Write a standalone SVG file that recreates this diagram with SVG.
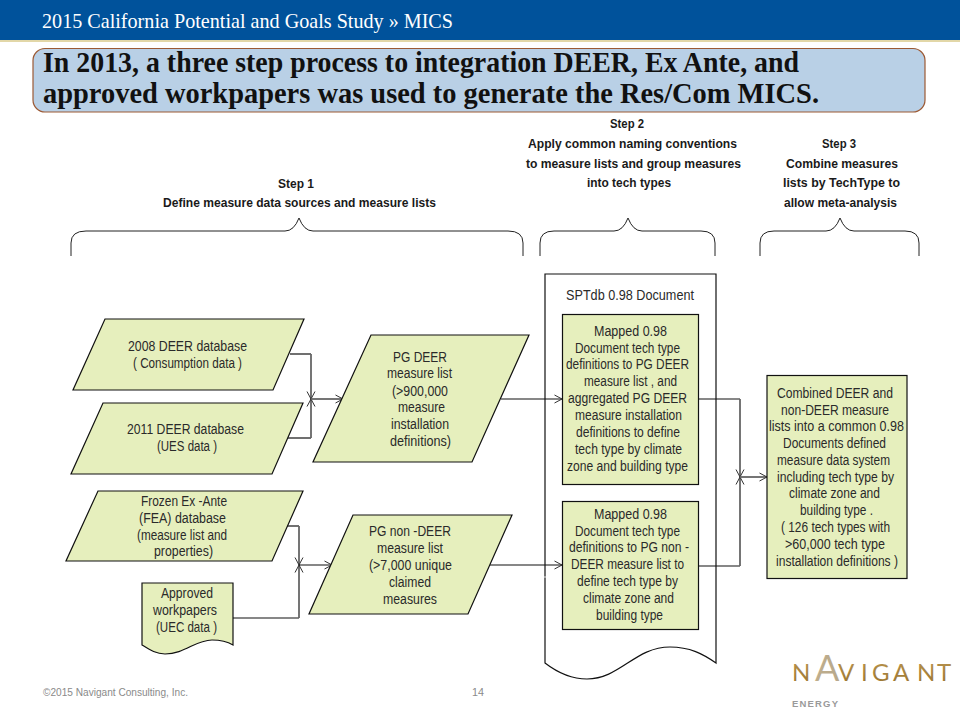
<svg xmlns="http://www.w3.org/2000/svg" width="960" height="720" viewBox="0 0 960 720">
<style>
text{font-family:"Liberation Sans",Arial,sans-serif;font-size:14px;fill:#2a2a2a}
.b{font-weight:bold;fill:#1a1a1a;font-size:13.500px}
.t{font-family:"Liberation Serif","Times New Roman",serif;font-weight:bold;font-size:30px;fill:#111}
.h{font-family:"Liberation Serif","Times New Roman",serif;font-size:21px;fill:#fff}
.f{font-size:10.500px;fill:#8a8a8a}
.n{fill:#e6efbd;stroke:#111;stroke-width:1.2}
.c{fill:none;stroke:#111;stroke-width:1.2}
.g{fill:none;stroke:#666;stroke-width:1.8}
.br{fill:none;stroke:#222;stroke-width:1}
</style>
<defs>
<marker id="a" markerUnits="userSpaceOnUse" markerWidth="12" markerHeight="12" refX="9" refY="6" orient="auto"><path d="M1.500 2 L9 6 L1.500 10" fill="none" stroke="#333" stroke-width="1"/></marker>
<marker id="w" markerUnits="userSpaceOnUse" markerWidth="12" markerHeight="12" refX="9" refY="6" orient="auto"><path d="M3 3.500 L9 6 L3 8.500" fill="none" stroke="#fff" stroke-width="0.8"/></marker>
<linearGradient id="gold" x1="0" y1="0" x2="0" y2="1"><stop offset="0" stop-color="#c8a45e"/><stop offset="1" stop-color="#96702c"/></linearGradient>
<linearGradient id="peak" x1="0" y1="0" x2="1" y2="0"><stop offset="0" stop-color="#c9b48c"/><stop offset="1" stop-color="#8d8d8d"/></linearGradient>
</defs>

<g id="header">
<rect x="0" y="0" width="960" height="40" fill="#00529b"/>
<rect x="0" y="40" width="960" height="2" fill="#e2d7a8"/>
<text class="h" x="42" y="28" textLength="411" lengthAdjust="spacingAndGlyphs">2015 California Potential and Goals Study » MICS</text>
</g>
<g id="title">
<rect x="33" y="48.500" width="892" height="63.500" rx="12" fill="#b9d0e6" stroke="#9c5a35" stroke-width="1.200"/>
<text class="t" x="43" y="72" textLength="756" lengthAdjust="spacingAndGlyphs">In 2013, a three step process to integration DEER, Ex Ante, and</text>
<text class="t" x="43" y="103" textLength="776" lengthAdjust="spacingAndGlyphs">approved workpapers was used to generate the Res/Com MICS.</text>
</g>

<g id="step1">
<text class="b" x="278" y="188" textLength="36" lengthAdjust="spacingAndGlyphs">Step 1</text>
<text class="b" x="163" y="207" textLength="273" lengthAdjust="spacingAndGlyphs">Define measure data sources and measure lists</text>
<path class="br" d="M71 256 V243 Q71 231 86 231 H285 Q294 231 299 218 Q304 231 313 231 H508 Q523 231 523 243 V256"/>
</g>
<g id="step2">
<text class="b" x="610" y="128" textLength="34" lengthAdjust="spacingAndGlyphs">Step 2</text>
<text class="b" x="528" y="148" textLength="209" lengthAdjust="spacingAndGlyphs">Apply common naming conventions</text>
<text class="b" x="526" y="168" textLength="215" lengthAdjust="spacingAndGlyphs">to measure lists and group measures</text>
<text class="b" x="587" y="187" textLength="84" lengthAdjust="spacingAndGlyphs">into tech types</text>
<path class="br" d="M540 256 V243 Q540 231 554 231 H614 Q623 231 628 218 Q633 231 642 231 H701 Q715 231 715 243 V256"/>
</g>
<g id="step3">
<text class="b" x="822" y="148" textLength="34" lengthAdjust="spacingAndGlyphs">Step 3</text>
<text class="b" x="786" y="168" textLength="112" lengthAdjust="spacingAndGlyphs">Combine measures</text>
<text class="b" x="783" y="187" textLength="117" lengthAdjust="spacingAndGlyphs">lists by TechType to</text>
<text class="b" x="784" y="207" textLength="113" lengthAdjust="spacingAndGlyphs">allow meta-analysis</text>
<path class="br" d="M760 256 V243 Q760 231 774 231 H826 Q835 231 840 218 Q845 231 854 231 H905 Q919 231 919 243 V256"/>
</g>

<g id="spt-document">
<path d="M716 663 V274 H545 V663 C558 673 573 679 587 679 C620 679 635 647 670 647 C690 647 703 654 716 663 Z" fill="#fff" stroke="#111" stroke-width="1.200"/>
<text x="566" y="300" textLength="128" lengthAdjust="spacingAndGlyphs">SPTdb  0.98 Document</text>
</g>

<g id="connectors">
<path class="c" d="M290 354 H311"/>
<path class="c" d="M287 438 H311"/>
<path class="g" d="M311 354 V399" marker-end="url(#a)"/>
<path class="g" d="M311 438 V399" marker-end="url(#a)"/>
<path class="g" d="M311 399 H343" marker-end="url(#a)"/>
<path class="c" d="M285 526 H299"/>
<path class="c" d="M233 618 H299"/>
<path class="g" d="M299 526 V565" marker-end="url(#a)"/>
<path class="g" d="M299 618 V565" marker-end="url(#a)"/>
<path class="c" d="M299 565 H332" marker-end="url(#a)"/>
<path class="c" d="M501 399 H562" marker-end="url(#a)"/>
<path class="c" d="M490 565 H562" marker-end="url(#a)"/>
<path class="c" d="M699 399 H740"/>
<path class="c" d="M699 566 H740"/>
<path class="g" d="M740 399 V477" marker-end="url(#a)"/>
<path class="g" d="M740 566 V477" marker-end="url(#a)"/>
<path class="g" d="M740 477 H767" stroke-width="1.400" marker-end="url(#a)"/>
<path d="M544 577 H574" fill="none" stroke="#fff" stroke-width="0.800" stroke-dasharray="5 2 18 1" marker-end="url(#w)"/>
</g>

<g id="deer2008">
<polygon class="n" points="105,319 304,319 273,390 73,390"/>
<text x="128" y="351" textLength="119" lengthAdjust="spacingAndGlyphs">2008 DEER database</text>
<text x="133" y="368" textLength="109" lengthAdjust="spacingAndGlyphs">( Consumption data )</text>
</g>
<g id="deer2011">
<polygon class="n" points="103,403 303,403 272,474 71,474"/>
<text x="127" y="434" textLength="117" lengthAdjust="spacingAndGlyphs">2011 DEER database</text>
<text x="157" y="451" textLength="60" lengthAdjust="spacingAndGlyphs">(UES data )</text>
</g>
<g id="frozen-ex-ante">
<polygon class="n" points="98,491 303,491 272,561 66,561"/>
<text x="141" y="506" textLength="86" lengthAdjust="spacingAndGlyphs">Frozen Ex -Ante</text>
<text x="139" y="523" textLength="87" lengthAdjust="spacingAndGlyphs">(FEA) database</text>
<text x="137" y="540" textLength="90" lengthAdjust="spacingAndGlyphs">(measure list and</text>
<text x="154" y="556" textLength="59" lengthAdjust="spacingAndGlyphs">properties)</text>
</g>
<g id="workpapers">
<path class="n" d="M142 583 H233 V645 C228 642 222 640 212 640 C195 640 185 654 165 654 C156 654 150 650 142 645 Z"/>
<text x="161" y="598" textLength="52" lengthAdjust="spacingAndGlyphs">Approved</text>
<text x="153" y="615" textLength="64" lengthAdjust="spacingAndGlyphs">workpapers</text>
<text x="156" y="632" textLength="61" lengthAdjust="spacingAndGlyphs">(UEC data )</text>
</g>
<g id="pg-deer">
<polygon class="n" points="371,335 529,335 472,462 313,462"/>
<text x="393" y="362" textLength="54" lengthAdjust="spacingAndGlyphs">PG DEER</text>
<text x="387" y="378" textLength="65" lengthAdjust="spacingAndGlyphs">measure list</text>
<text x="392" y="396" textLength="56" lengthAdjust="spacingAndGlyphs">(&gt;900,000</text>
<text x="398" y="412" textLength="47" lengthAdjust="spacingAndGlyphs">measure</text>
<text x="391" y="429" textLength="58" lengthAdjust="spacingAndGlyphs">installation</text>
<text x="390" y="446" textLength="61" lengthAdjust="spacingAndGlyphs">definitions)</text>
</g>
<g id="pg-non-deer">
<polygon class="n" points="353,515 512,515 468,614 309,614"/>
<text x="369" y="536" textLength="82" lengthAdjust="spacingAndGlyphs">PG non -DEER</text>
<text x="377" y="553" textLength="66" lengthAdjust="spacingAndGlyphs">measure list</text>
<text x="369" y="570" textLength="83" lengthAdjust="spacingAndGlyphs">(&gt;7,000 unique</text>
<text x="389" y="587" textLength="42" lengthAdjust="spacingAndGlyphs">claimed</text>
<text x="383" y="604" textLength="54" lengthAdjust="spacingAndGlyphs">measures</text>
</g>
<g id="mapped-deer">
<rect class="n" x="562.500" y="314.500" width="136" height="170"/>
<text x="594" y="336" textLength="73" lengthAdjust="spacingAndGlyphs">Mapped 0.98</text>
<text x="575" y="353" textLength="105" lengthAdjust="spacingAndGlyphs">Document tech type</text>
<text x="566" y="369" textLength="123" lengthAdjust="spacingAndGlyphs">definitions to PG DEER</text>
<text x="584" y="386" textLength="93" lengthAdjust="spacingAndGlyphs">measure list , and</text>
<text x="568" y="403" textLength="119" lengthAdjust="spacingAndGlyphs">aggregated PG DEER</text>
<text x="575" y="420" textLength="107" lengthAdjust="spacingAndGlyphs">measure installation</text>
<text x="576" y="437" textLength="104" lengthAdjust="spacingAndGlyphs">definitions to define</text>
<text x="575" y="454" textLength="107" lengthAdjust="spacingAndGlyphs">tech type by climate</text>
<text x="567" y="471" textLength="121" lengthAdjust="spacingAndGlyphs">zone and building type</text>
</g>
<g id="mapped-non-deer">
<rect class="n" x="562.500" y="501.500" width="136" height="128"/>
<text x="594" y="519" textLength="73" lengthAdjust="spacingAndGlyphs">Mapped 0.98</text>
<text x="575" y="536" textLength="105" lengthAdjust="spacingAndGlyphs">Document tech type</text>
<text x="569" y="552" textLength="120" lengthAdjust="spacingAndGlyphs">definitions to PG non  -</text>
<text x="571" y="569" textLength="113" lengthAdjust="spacingAndGlyphs">DEER measure list to</text>
<text x="577" y="586" textLength="101" lengthAdjust="spacingAndGlyphs">define tech type by</text>
<text x="583" y="603" textLength="91" lengthAdjust="spacingAndGlyphs">climate zone and</text>
<text x="596" y="620" textLength="67" lengthAdjust="spacingAndGlyphs">building type</text>
</g>
<g id="combined">
<rect class="n" x="767" y="375.500" width="140" height="203"/>
<text x="777" y="398" textLength="116" lengthAdjust="spacingAndGlyphs">Combined DEER and</text>
<text x="781" y="415" textLength="108" lengthAdjust="spacingAndGlyphs">non-DEER measure</text>
<text x="769" y="431" textLength="135" lengthAdjust="spacingAndGlyphs">lists into a common  0.98</text>
<text x="783" y="448" textLength="103" lengthAdjust="spacingAndGlyphs">Documents defined</text>
<text x="777" y="465" textLength="113" lengthAdjust="spacingAndGlyphs">measure data system</text>
<text x="777" y="482" textLength="117" lengthAdjust="spacingAndGlyphs">including tech type by</text>
<text x="789" y="498" textLength="91" lengthAdjust="spacingAndGlyphs">climate zone and</text>
<text x="800" y="515" textLength="73" lengthAdjust="spacingAndGlyphs">building type .</text>
<text x="781" y="532" textLength="109" lengthAdjust="spacingAndGlyphs">( 126 tech types with</text>
<text x="785" y="549" textLength="100" lengthAdjust="spacingAndGlyphs">&gt;60,000 tech type</text>
<text x="776" y="566" textLength="122" lengthAdjust="spacingAndGlyphs">installation definitions )</text>
</g>

<g id="footer">
<text class="f" x="43" y="696" textLength="145" lengthAdjust="spacingAndGlyphs">©2015 Navigant Consulting, Inc.</text>
<text class="f" x="472" y="696" textLength="12" lengthAdjust="spacingAndGlyphs">14</text>
</g>
<g id="logo">
<text x="792 815 838 861 872 893 917 937" y="681" style="font-family:Lato,'Liberation Sans',sans-serif;font-size:24px;fill:url(#gold)">N<tspan style="font-size:36px;fill:url(#peak)">A</tspan>VIGANT</text>
<text x="792" y="707" textLength="46" style="font-size:9.500px;font-weight:bold;fill:#9a9a9a">ENERGY</text>
</g>
</svg>
